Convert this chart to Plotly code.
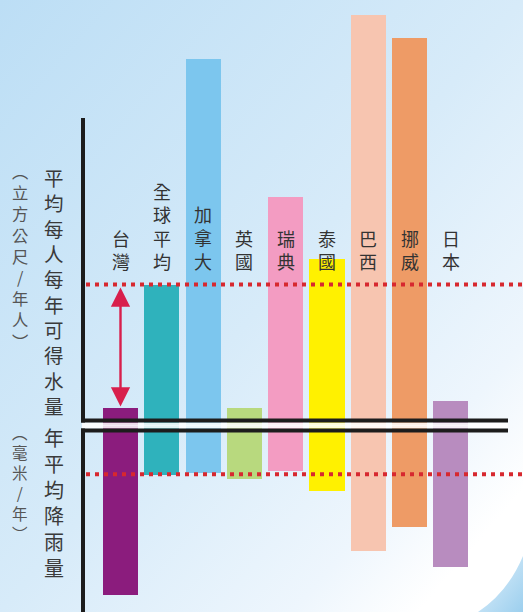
import base64
import plotly.graph_objects as go

# ---------------- data ----------------
categories = ["台灣", "全球平均", "加拿大", "英國", "瑞典", "泰國", "巴西", "挪威", "日本"]
# 平均每人每年可得水量 (立方公尺/年人)
water_per_person = [3500, 28200, 73300, 3500, 45700, 33300, 82100, 77500, 4900]
# 年平均降雨量 (毫米/年)
rainfall = [2530, 730, 710, 800, 680, 980, 1880, 1520, 2110]
bar_colors = ["#8b1c7d", "#2fb2bc", "#7cc6ee", "#b8d97e", "#f39cc2",
              "#fff100", "#f7c5b0", "#ee9b66", "#b88cbf"]
title_upper = "平均每人每年可得水量"
unit_upper = "︵立方公尺/年人︶"
title_lower = "年平均降雨量"
unit_lower = "︵毫米/年︶"

W, H = 523, 612
FONT = "Noto Sans CJK TC"


def py(px):
    """pixel row -> paper y"""
    return 1 - px / H


def pxx(px):
    return px / W


ZERO_PX = 425.5
UP_MAX = ZERO_PX * 200.0       # upper axis range
LOW_MAX = (H - ZERO_PX) * 15.0  # lower axis range

fig = go.Figure()
fig.add_trace(go.Bar(x=categories, y=water_per_person, marker_color=bar_colors,
                     marker_line_width=0, width=0.85, xaxis="x", yaxis="y",
                     hoverinfo="skip", showlegend=False))
fig.add_trace(go.Bar(x=categories, y=rainfall, marker_color=bar_colors,
                     marker_line_width=0, width=0.85, xaxis="x2", yaxis="y2",
                     hoverinfo="skip", showlegend=False))

xr = [-120.5 / 41.3, (W - 120.5) / 41.3]
split = py(ZERO_PX)
fig.update_layout(
    width=W, height=H, margin=dict(l=0, r=0, t=0, b=0),
    paper_bgcolor="white", plot_bgcolor="rgba(0,0,0,0)",
    xaxis=dict(type="category", range=xr, visible=False, domain=[0, 1], anchor="y"),
    xaxis2=dict(type="category", range=xr, visible=False, domain=[0, 1], anchor="y2", matches="x"),
    yaxis=dict(range=[0, UP_MAX], visible=False, domain=[split, 1], anchor="x"),
    yaxis2=dict(range=[LOW_MAX, 0], visible=False, domain=[0, split], anchor="x2"),
    bargap=0,
)

# background gradient (svg image)
svg = f"""<svg xmlns='http://www.w3.org/2000/svg' width='{W}' height='{H}' viewBox='0 0 {W} {H}' preserveAspectRatio='none'>
<defs>
<linearGradient id='g' x1='0' y1='0' x2='1' y2='1'>
<stop offset='0' stop-color='#bcdef5'/>
<stop offset='0.5' stop-color='#d7ebf9'/>
<stop offset='0.78' stop-color='#eef6fd'/>
<stop offset='0.9' stop-color='#ffffff'/>
<stop offset='1' stop-color='#ffffff'/>
</linearGradient>
<linearGradient id='c' x1='0' y1='0' x2='1' y2='1'>
<stop offset='0' stop-color='#e4f2fc'/>
<stop offset='1' stop-color='#9ccfee'/>
</linearGradient>
</defs>
<rect width='{W}' height='{H}' fill='url(#g)'/>
<path d='M478,612 Q508,592 523,556 L523,612 Z' fill='url(#c)'/>
</svg>"""
src = "data:image/svg+xml;base64," + base64.b64encode(svg.encode()).decode()
fig.add_layout_image(dict(source=src, xref="paper", yref="paper", x=0, y=1,
                          sizex=1, sizey=1, sizing="stretch", layer="below",
                          xanchor="left", yanchor="top"))

# dotted reference lines at world average
red = "#d7282f"
fig.add_shape(type="line", xref="paper", yref="y", x0=pxx(86), x1=1,
              y0=water_per_person[1], y1=water_per_person[1],
              line=dict(color=red, width=4, dash="4px,5px"))
fig.add_shape(type="line", xref="paper", yref="y2", x0=pxx(86), x1=1,
              y0=rainfall[1], y1=rainfall[1],
              line=dict(color=red, width=4, dash="4px,5px"))

# axes frames
black = "#1c1c1c"
fig.add_shape(type="rect", xref="paper", yref="paper", x0=pxx(82), x1=pxx(508),
              y0=py(428.5), y1=py(422.5), fillcolor="rgba(255,255,255,0.85)", line_width=0)
fig.add_shape(type="line", xref="paper", yref="paper", x0=pxx(81), x1=pxx(508),
              y0=py(420.5), y1=py(420.5), line=dict(color=black, width=4))
fig.add_shape(type="line", xref="paper", yref="paper", x0=pxx(81), x1=pxx(508),
              y0=py(430.5), y1=py(430.5), line=dict(color=black, width=4))
fig.add_shape(type="line", xref="paper", yref="paper", x0=pxx(83), x1=pxx(83),
              y0=py(118), y1=py(422.5), line=dict(color=black, width=4))
fig.add_shape(type="line", xref="paper", yref="paper", x0=pxx(83), x1=pxx(83),
              y0=py(428.5), y1=0, line=dict(color=black, width=4))

# arrow between Taiwan and world average
fig.add_annotation(x=categories[0], y=water_per_person[1], ax=categories[0],
                   ay=water_per_person[0], xref="x", yref="y", axref="x", ayref="y",
                   text="", showarrow=True, arrowhead=2, arrowside="end+start",
                   arrowsize=1.6, arrowwidth=2.4, arrowcolor="#d81f4c",
                   standoff=3, startstandoff=0)

# category labels (vertical)
for c in categories:
    fig.add_annotation(x=c, y=py(276), xref="x", yref="paper", text="<br>".join(c),
                       showarrow=False, yanchor="bottom", xanchor="center",
                       font=dict(family=FONT, size=18, color="#333333"))


# axis titles (vertical, one character per line)
def vertical_text(text, x_px, y_top_px, size, color):
    fig.add_annotation(x=pxx(x_px), y=py(y_top_px), xref="paper", yref="paper",
                       text="<br>".join(text), showarrow=False,
                       xanchor="center", yanchor="top",
                       font=dict(family=FONT, size=size, color=color))


vertical_text(title_upper, 54, 161, 19.5, "#3a3a3a")
vertical_text(unit_upper, 20, 157, 16.3, "#555555")
vertical_text(title_lower, 54, 421, 20, "#3a3a3a")
vertical_text(unit_lower, 20, 419, 15.5, "#555555")

fig.write_html("out.html", config={"displayModeBar": False},
               post_script="document.body.style.margin='0';document.body.style.overflow='hidden';")
